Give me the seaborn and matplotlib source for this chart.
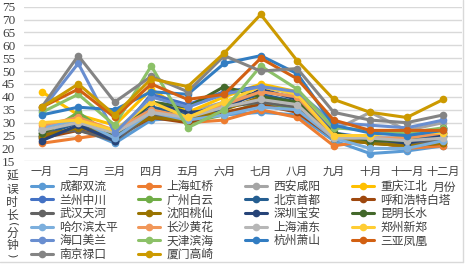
import matplotlib
matplotlib.use("Agg")
import matplotlib.pyplot as plt
from matplotlib.lines import Line2D
import seaborn as sns
import pandas as pd

months = ["一月", "二月", "三月", "四月", "五月", "六月",
          "七月", "八月", "九月", "十月", "十一月", "十二月"]

airports = ["成都双流", "上海虹桥", "西安咸阳", "重庆江北", "兰州中川", "广州白云",
            "北京首都", "呼和浩特白塔", "武汉天河", "沈阳桃仙", "深圳宝安", "昆明长水",
            "哈尔滨太平", "长沙黄花", "上海浦东", "郑州新郑", "海口美兰", "天津滨海",
            "杭州萧山", "三亚凤凰", "南京禄口", "厦门高崎"]

chengdu   = [24, 28, 22, 31, 32, 33, 34, 33, 23, 18, 19, 21]
hongqiao  = [22, 24, 26, 33, 30, 31, 35, 32, 21, 23, 20, 21]
xian      = [27, 30, 25, 36, 34, 38, 42, 40, 27, 34, 27, 30]
chongqing = [42, 33, 29, 43, 34, 40, 45, 42, 26, 22, 25, 26]
lanzhou   = [27, 30, 24, 41, 37, 42, 44, 41, 26, 24, 24, 28]
guangzhou = [25, 34, 24, 35, 30, 33, 38, 35, 24, 23, 22, 25]
beijing   = [25, 30, 23, 36, 33, 37, 41, 38, 25, 23, 23, 26]
huhehaote = [24, 27, 24, 32, 30, 34, 37, 34, 24, 22, 21, 22]
wuhan     = [26, 27, 23, 33, 31, 36, 38, 36, 25, 22, 22, 23]
shenyang  = [25, 28, 26, 32, 31, 35, 40, 37, 24, 22, 21, 22]
shenzhen  = [23, 29, 23, 38, 34, 35, 43, 39, 25, 24, 22, 25]
kunming   = [26, 32, 25, 38, 36, 44, 40, 38, 26, 23, 23, 28]
haerbin   = [28, 31, 24, 34, 31, 33, 36, 35, 24, 20, 20, 23]
changsha  = [29, 32, 27, 35, 32, 37, 42, 40, 25, 24, 24, 26]
pudong    = [27, 30, 26, 34, 32, 36, 39, 37, 24, 24, 23, 24]
zhengzhou = [30, 31, 27, 38, 32, 38, 44, 41, 25, 25, 27, 26]
haikou    = [35, 53, 26, 40, 36, 41, 44, 42, 30, 29, 28, 31]
tianjin   = [34, 41, 29, 52, 28, 35, 52, 43, 28, 27, 26, 28]
hangzhou  = [33, 36, 35, 42, 41, 53, 56, 49, 29, 26, 25, 27]
sanya     = [36, 43, 32, 45, 39, 41, 55, 47, 31, 27, 27, 27]
nanjing   = [36, 56, 38, 48, 42, 56, 50, 51, 34, 31, 30, 33]
xiamen    = [36, 45, 33, 47, 44, 57, 72, 54, 39, 34, 32, 39]

series = [chengdu, hongqiao, xian, chongqing, lanzhou, guangzhou, beijing,
          huhehaote, wuhan, shenyang, shenzhen, kunming, haerbin, changsha,
          pudong, zhengzhou, haikou, tianjin, hangzhou, sanya, nanjing, xiamen]

colors = ["#5B9BD5", "#ED7D31", "#A5A5A5", "#FFC000", "#4472C4", "#70AD47",
          "#255E91", "#9E480E", "#636363", "#997300", "#264478", "#43682B",
          "#7CAFDD", "#F1975A", "#B7B7B7", "#FFCD33", "#698ED0", "#8CC168",
          "#327DC2", "#D26012", "#848484", "#CC9A00"]

y_ticks = [15, 20, 25, 30, 35, 40, 45, 50, 55, 60, 65, 70, 75]

rows = []
for name, vals in zip(airports, series):
    for m, v in zip(months, vals):
        rows.append({"月份": m, "延误时长": v, "机场": name})
df = pd.DataFrame(rows)

sns.set_theme(style="white")
cjk = ["Noto Sans CJK SC", "DejaVu Sans"]
plt.rcParams["font.family"] = cjk

W, H = 465, 265
fig = plt.figure(figsize=(W / 100, H / 100), dpi=100)
fig.patch.set_facecolor("white")
ax = fig.add_axes([23.5 / W, (H - 161.3) / H, 438 / W, 154.6 / H])

palette = dict(zip(airports, colors))
sns.lineplot(data=df, x="月份", y="延误时长", hue="机场", hue_order=airports,
             palette=palette, marker="o", markersize=5.5, markeredgewidth=0,
             linewidth=2.2, sort=False, legend=False, ax=ax)

ax.set_xlim(-0.5, 11.5)
ax.set_ylim(15, 75)
ax.set_yticks(y_ticks)
ax.set_yticklabels([str(t) for t in y_ticks], family="Liberation Serif",
                   fontsize=9.5, color="#404040")
ax.set_xticks(range(len(months)))
ax.set_xticklabels(months, fontsize=8, color="#404040")
ax.tick_params(axis="y", length=0, pad=6)
ax.tick_params(axis="x", length=0, pad=4)
ax.set_xlabel("")
ax.set_ylabel("")
ax.grid(axis="y", color="#D9D9D9", linewidth=1.0)
ax.grid(axis="x", visible=False)
for s in ax.spines.values():
    s.set_visible(False)
ax.set_axisbelow(True)

# legend: 4 columns laid out in row-major order
handles = [Line2D([0], [0], color=c, lw=2.2, marker="o", markersize=5.5,
                  markeredgewidth=0) for c in colors]
col_x = [31, 138, 245, 352]
for ci in range(4):
    idx = list(range(ci, len(airports), 4))
    leg = fig.legend([handles[i] for i in idx], [airports[i] for i in idx],
                     loc="upper left", bbox_to_anchor=(col_x[ci] / W, (H - 180) / H),
                     frameon=False, fontsize=8.5, handlelength=1.9,
                     handletextpad=0.5, labelspacing=0.05, borderpad=0,
                     borderaxespad=0)
    for t in leg.get_texts():
        t.set_color("#404040")

fig.text(433 / W, (H - 187) / H, "月份", fontsize=8.5, color="#404040",
         ha="left", va="center")

# vertical stacked y-axis title: 延误时长(分钟)
ylab_chars = ["延", "误", "时", "长", "分", "钟"]
ylab_pos = [176.5, 189.5, 202.5, 215.5, 233, 246]
for ch, yy in zip(ylab_chars, ylab_pos):
    fig.text(12 / W, (H - yy) / H, ch, fontsize=8.5, color="#404040",
             ha="center", va="center")
for ch, yy in [("(", 224.5), (")", 255)]:
    fig.text(12 / W, (H - yy) / H, ch, fontsize=8, color="#404040",
             ha="center", va="center", rotation=-90, family="DejaVu Sans")

# chart border
fig.add_artist(Line2D([0, 463 / W], [(H - 262) / H] * 2, color="#D9D9D9", lw=1))
fig.add_artist(Line2D([463 / W] * 2, [(H - 262) / H, 1], color="#D9D9D9", lw=1))

fig.savefig("out.png", dpi=100, facecolor="white")
